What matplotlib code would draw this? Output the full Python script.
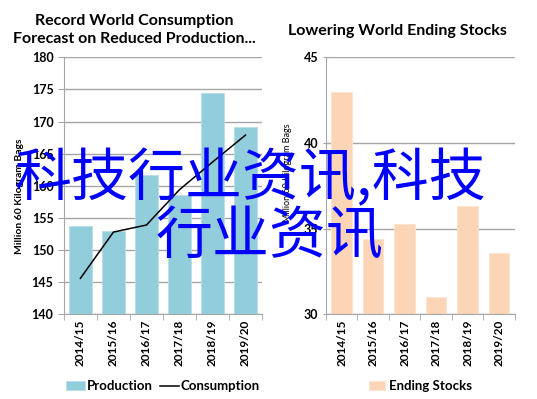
import numpy as np
import matplotlib.pyplot as plt

# 数据
years = ["2014/15", "2015/16", "2016/17", "2017/18", "2018/19", "2019/20"]
production = [153.8, 152.9, 161.7, 158.6, 174.5, 169.1]
consumption = [145.6, 152.8, 153.9, 159.4, 163.7, 167.9]
ending_stocks = [43.0, 34.4, 35.3, 31.0, 36.3, 33.6]

plt.rcParams['font.family'] = ['Lato', 'DejaVu Sans']
grid_c = "#A6A6A6"

fig = plt.figure(figsize=(5.37, 3.99), dpi=100)
ax1 = fig.add_axes([0.119, 0.2123, 0.369, 0.644])
ax2 = fig.add_axes([0.607, 0.2123, 0.352, 0.644])

x = np.arange(len(years))


def style_axes(ax, ylim, step, tick_dir):
    ax.set_xlim(-0.5, len(years) - 0.5)
    ax.set_ylim(*ylim)
    yt = np.arange(ylim[0], ylim[1] + 0.1, step)
    ax.set_yticks(yt, labels=[str(int(v)) for v in yt], fontweight="bold", fontsize=9)
    ax.yaxis.grid(True, color=grid_c, linewidth=1)
    ax.set_axisbelow(True)
    for s in ["top", "right"]:
        ax.spines[s].set_visible(False)
    for s in ["left", "bottom"]:
        ax.spines[s].set_color(grid_c)
    ax.set_xticks(x, labels=years, rotation=90, fontweight="bold", fontsize=8.5)
    ax.tick_params(axis="x", length=0, pad=4)
    ax.set_xticks(np.arange(-0.5, len(years)), minor=True)
    ax.tick_params(axis="x", which="minor", length=4, color=grid_c)
    ax.tick_params(axis="y", length=4, color=grid_c, direction=tick_dir)


# 左: 生産量と消費量
bars = ax1.bar(x, production, width=0.7, color="#92CDDC", edgecolor="#B7DEE8", linewidth=0.6,
               label="Production")
line, = ax1.plot(x, consumption, color="black", linewidth=1.1, label="Consumption")
style_axes(ax1, (140, 180), 5, "out")
ax1.set_ylabel("Million 60 Kilogram Bags", fontsize=7.5, fontweight="bold", labelpad=3)
ax1.yaxis.set_label_coords(-0.2, 0.46)
ax1.set_title("Record World Consumption\nForecast on Reduced Production...",
              fontsize=11.5, fontweight="bold", pad=10, linespacing=1.4, x=0.354)
ax1.legend([bars, line], ["Production", "Consumption"], loc="upper center",
           bbox_to_anchor=(0.5, -0.21), ncol=2, frameon=False,
           prop={"weight": "bold", "size": 9.5}, handlelength=1.4, handletextpad=0.15,
           columnspacing=0.6)

# 右: 期末在庫
ax2.bar(x, ending_stocks, width=0.65, color="#FBD5B5", edgecolor="#FDE4D0", linewidth=0.6,
        label="Ending Stocks")
style_axes(ax2, (30, 45), 5, "inout")
ax2.set_ylabel("Million 60 Kilogram Bags", fontsize=6.5, labelpad=2)
ax2.yaxis.set_label_coords(-0.18, 0.55)
ax2.set_title("Lowering World Ending Stocks", fontsize=11.5, fontweight="bold", pad=16,
              x=0.38)
ax2.legend(loc="upper center", bbox_to_anchor=(0.5, -0.21), frameon=False,
           prop={"weight": "bold", "size": 9.5}, handlelength=1.2, handletextpad=0.3)

# 透かし文字
fig.text(250 / 537, 1 - 178.5 / 399, "科技行业资讯,科技", color="#0000FF", fontsize=41,
         family=["Noto Sans CJK SC", "DejaVu Sans"], ha="center", va="center")
fig.text(270 / 537, 1 - 237 / 399, "行业资讯", color="#0000FF", fontsize=41,
         family=["Noto Sans CJK SC", "DejaVu Sans"], ha="center", va="center")

fig.savefig("out.png", dpi=100)
